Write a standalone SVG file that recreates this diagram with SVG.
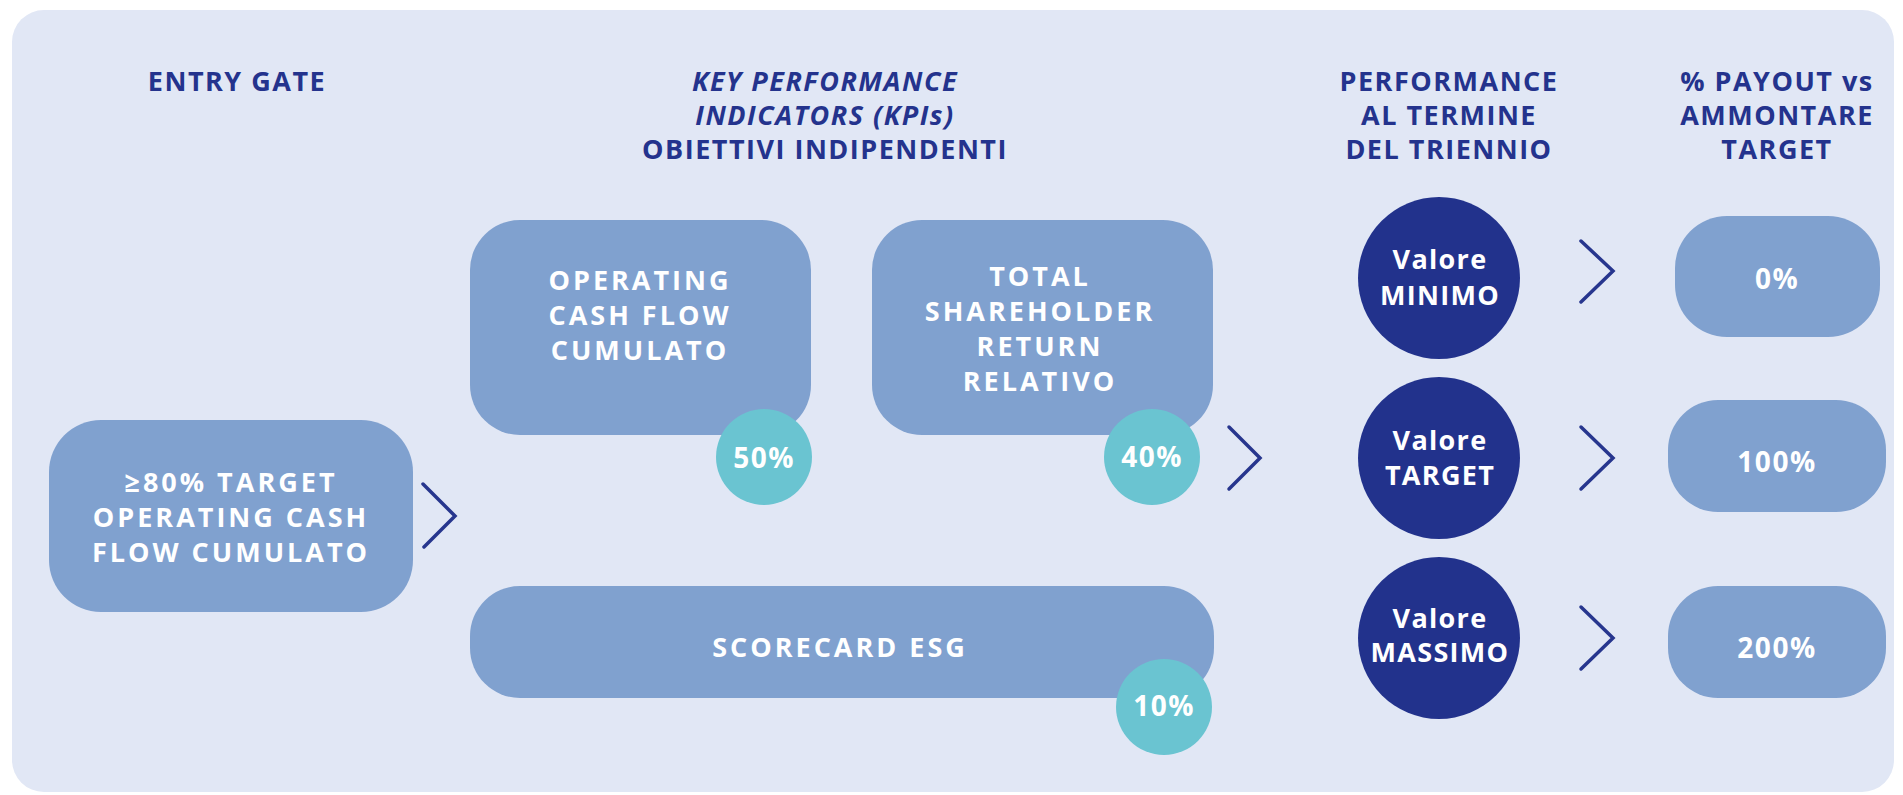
<svg xmlns="http://www.w3.org/2000/svg" width="1903" height="795" viewBox="0 0 1903 795">
<style>
.hdr{font-family:"Open Sans","Liberation Sans",sans-serif;font-weight:700;font-size:27px;letter-spacing:1.5px;fill:#24338d;text-anchor:middle}
.it{font-style:italic}
.box{fill:#80a1cf}
.bt{font-family:"Open Sans","Liberation Sans",sans-serif;font-weight:700;font-size:27px;letter-spacing:3px;fill:#ffffff;text-anchor:middle}
.pct{font-family:"Open Sans","Liberation Sans",sans-serif;font-weight:700;font-size:28px;letter-spacing:1.5px;fill:#ffffff;text-anchor:middle}
.ct{font-family:"Open Sans","Liberation Sans",sans-serif;font-weight:700;font-size:27px;letter-spacing:1.3px;fill:#ffffff;text-anchor:middle}
.teal{fill:#6ac4d1}
.navy{fill:#22328c}
.chev{fill:none;stroke:#27368e;stroke-width:3.5;stroke-linecap:round;stroke-linejoin:miter}
</style>
<rect x="12" y="10" width="1882" height="782" rx="32" fill="#e1e7f5"/>
<g id="headers">
<text class="hdr" x="237" y="91">ENTRY GATE</text>
<text class="hdr it" x="825" y="91">KEY PERFORMANCE</text>
<text class="hdr it" x="825" y="125">INDICATORS (KPIs)</text>
<text class="hdr" x="825" y="159">OBIETTIVI INDIPENDENTI</text>
<text class="hdr" x="1449" y="91">PERFORMANCE</text>
<text class="hdr" x="1449" y="125">AL TERMINE</text>
<text class="hdr" x="1449" y="159">DEL TRIENNIO</text>
<text class="hdr" x="1777" y="91">% PAYOUT vs</text>
<text class="hdr" x="1777" y="125">AMMONTARE</text>
<text class="hdr" x="1777" y="159">TARGET</text>
</g>
<g id="entry-gate">
<rect class="box" x="49" y="420" width="364" height="192" rx="52"/>
<text class="bt" x="231" y="492">≥80% TARGET</text>
<text class="bt" x="231" y="527">OPERATING CASH</text>
<text class="bt" x="231" y="562">FLOW CUMULATO</text>
</g>
<g id="kpi-ocf">
<rect class="box" x="470" y="220" width="341" height="215" rx="50"/>
<text class="bt" x="640" y="290">OPERATING</text>
<text class="bt" x="640" y="325">CASH FLOW</text>
<text class="bt" x="640" y="360">CUMULATO</text>
<circle class="teal" cx="764" cy="457" r="48"/>
<text class="pct" x="764" y="468">50%</text>
</g>
<g id="kpi-tsr">
<rect class="box" x="872" y="220" width="341" height="215" rx="50"/>
<text class="bt" x="1040" y="286">TOTAL</text>
<text class="bt" x="1040" y="321">SHAREHOLDER</text>
<text class="bt" x="1040" y="356">RETURN</text>
<text class="bt" x="1040" y="391">RELATIVO</text>
<circle class="teal" cx="1152" cy="457" r="48"/>
<text class="pct" x="1152" y="467">40%</text>
</g>
<g id="kpi-esg">
<rect class="box" x="470" y="586" width="744" height="112" rx="50"/>
<text class="bt" x="840" y="657">SCORECARD ESG</text>
<circle class="teal" cx="1164" cy="707" r="48"/>
<text class="pct" x="1164" y="716">10%</text>
</g>
<g id="perf-min">
<circle class="navy" cx="1439" cy="278" r="81"/>
<text class="ct" x="1440" y="269">Valore</text>
<text class="ct" x="1440" y="305">MINIMO</text>
</g>
<g id="perf-target">
<circle class="navy" cx="1439" cy="458" r="81"/>
<text class="ct" x="1440" y="450">Valore</text>
<text class="ct" x="1440" y="485">TARGET</text>
</g>
<g id="perf-max">
<circle class="navy" cx="1439" cy="638" r="81"/>
<text class="ct" x="1440" y="628">Valore</text>
<text class="ct" x="1440" y="662">MASSIMO</text>
</g>
<g id="payout-0">
<rect class="box" x="1675" y="216" width="205" height="121" rx="52"/>
<text class="pct" x="1777" y="289">0%</text>
</g>
<g id="payout-100">
<rect class="box" x="1668" y="400" width="218" height="112" rx="50"/>
<text class="pct" x="1777" y="472">100%</text>
</g>
<g id="payout-200">
<rect class="box" x="1668" y="586" width="218" height="112" rx="50"/>
<text class="pct" x="1777" y="658">200%</text>
</g>
<g id="connectors">
<polyline class="chev" points="423,484 455,516 424,547"/>
<polyline class="chev" points="1229,427 1260,458 1229,489"/>
<polyline class="chev" points="1581,241 1613,271 1581,302"/>
<polyline class="chev" points="1581,427 1613,458 1581,489"/>
<polyline class="chev" points="1581,607 1613,638 1581,669"/>
</g>
</svg>
